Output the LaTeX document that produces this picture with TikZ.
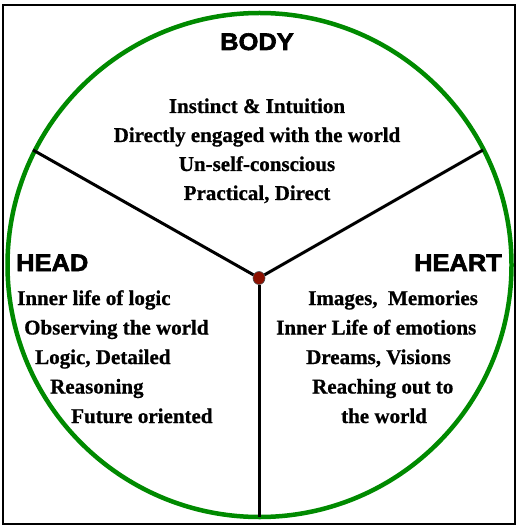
\documentclass[tikz,border=0pt]{standalone}
\usepackage{fontspec}
\setmainfont[BoldFeatures = {FakeBold = 0.8}]{Liberation Serif}
\newfontfamily\labelfont[BoldFeatures = {FakeBold = 2.5}]{Liberation Sans}
\usetikzlibrary{shapes.geometric}

\definecolor{ringgreen}{RGB}{0,138,0}
\definecolor{hubred}{RGB}{140,16,0}

\tikzset{
  title/.style = {inner sep = 0, anchor = base,
                  font = \labelfont\bfseries\fontsize{24}{24}\selectfont,
                  xscale = 1.06},
  trait/.style = {inner sep = 0,
                  font = \bfseries\fontsize{21}{21}\selectfont},
  spoke/.style = {line width = 3pt}
}

\begin{document}
\begin{tikzpicture}[x=1pt, y=-1pt]

    \useasboundingbox (0,0) rectangle (520,529);

    % frame and ring
    \draw[line width = 1.2pt] (3,5) rectangle (515,524);
    \draw[ringgreen, line width = 4.5pt] (259.5,265) circle [radius = 252pt];

    % spoke ends on the ring
    \coordinate (rimhead)  at (33,150);
    \coordinate (rimheart) at (483,150);
    \coordinate (rimfoot)  at (259,517);

    \node[ellipse,
          draw = black!70,
          fill = hubred,
          line width = 0.6pt,
          minimum width = 12pt,
          minimum height = 13pt,
          inner sep = 0
          ] (hub) at (259,278) {};

    \draw[spoke] (hub) -- (rimhead);
    \draw[spoke] (hub) -- (rimheart);
    \draw[spoke] (hub) -- (rimfoot);

    % titles
    \node[title] (body)  at (257,50)  {BODY};
    \node[title, anchor = base west] (head)  at (16,271)  {HEAD};
    \node[title, anchor = base east] (heart) at (502,271) {HEART};

    % body
    \node[trait, anchor = base] (body1) at (257,113) {Instinct \& Intuition};
    \node[trait, anchor = base] (body2) at (257,142) {Directly engaged with the world};
    \node[trait, anchor = base] (body3) at (257,171) {Un-self-conscious};
    \node[trait, anchor = base] (body4) at (257,200) {Practical, Direct};

    % head
    \node[trait, anchor = base west] (head1) at (17,305)   {Inner life of logic};
    \node[trait, anchor = base west] (head2) at (24,334.5) {Observing the world};
    \node[trait, anchor = base west] (head3) at (35,364)   {Logic, Detailed};
    \node[trait, anchor = base west] (head4) at (50,393.5) {Reasoning};
    \node[trait, anchor = base west] (head5) at (71,423)   {Future oriented};

    % heart
    \node[trait, anchor = base west] (heart1) at (308,305)   {Images,~ Memories};
    \node[trait, anchor = base west] (heart2) at (276,334.5) {Inner Life of emotions};
    \node[trait, anchor = base west] (heart3) at (306,364)   {Dreams, Visions};
    \node[trait, anchor = base west] (heart4) at (312,393.5) {Reaching out to};
    \node[trait, anchor = base west] (heart5) at (341,423)   {the world};

\end{tikzpicture}
\end{document}
